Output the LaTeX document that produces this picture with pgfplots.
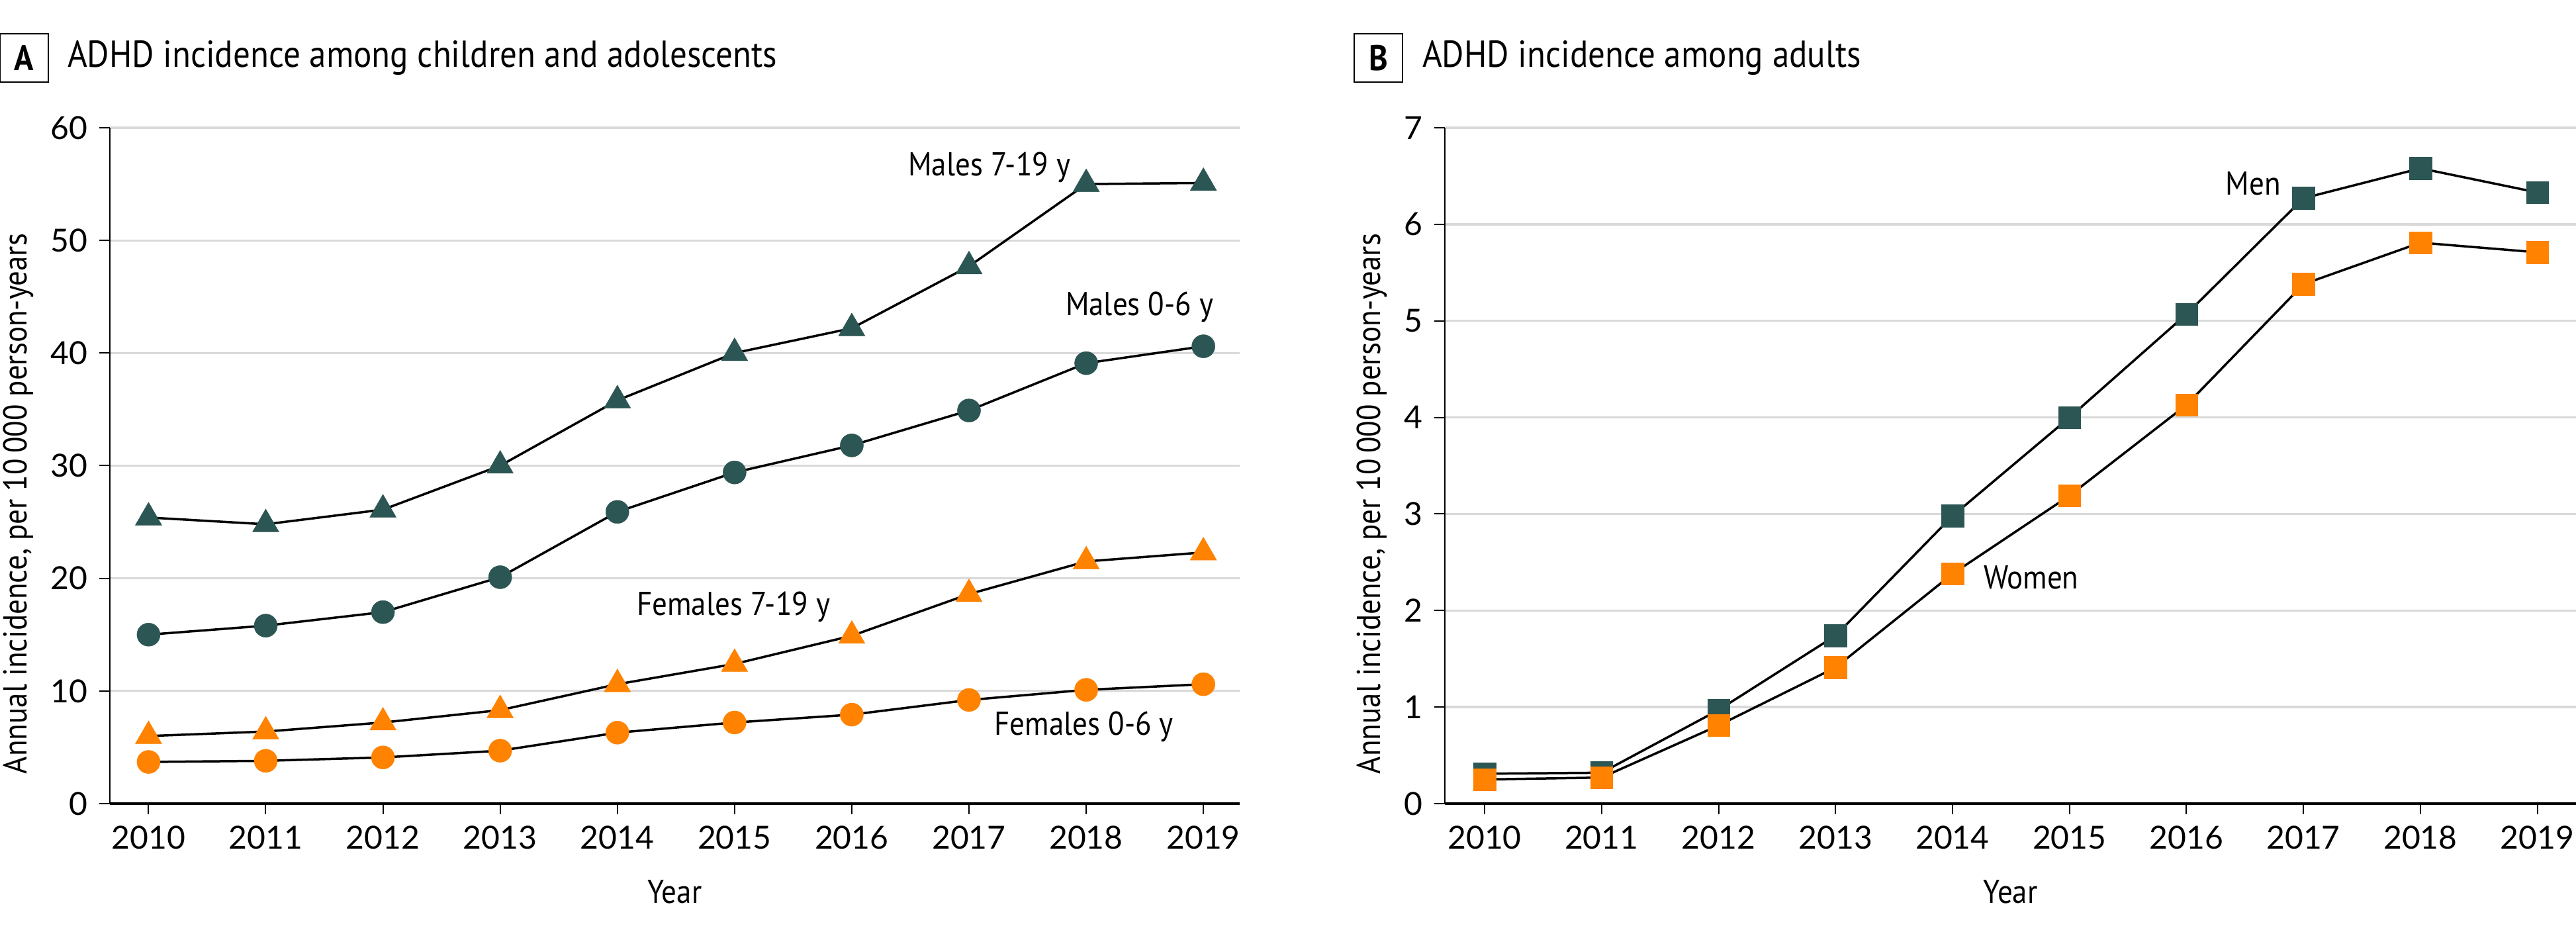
\documentclass[border=0pt]{standalone}
\usepackage{pgfplots}
\pgfplotsset{compat=1.18}
\usepackage{fontspec}
\setmainfont[FakeStretch=0.9]{PT Sans}
\newfontfamily\tickfont{Lato}
\definecolor{tealc}{RGB}{44,86,83}
\definecolor{orangec}{RGB}{255,130,0}
\definecolor{gridc}{RGB}{217,217,217}

\pgfplotstableread{
year m719 m06 f719 f06
2010 25.4 15.0 6.0 3.7
2011 24.8 15.8 6.4 3.8
2012 26.1 17.0 7.2 4.1
2013 30.0 20.1 8.3 4.7
2014 35.8 25.9 10.6 6.3
2015 40.0 29.4 12.4 7.2
2016 42.2 31.8 14.9 7.9
2017 47.7 34.9 18.6 9.2
2018 55.0 39.1 21.5 10.1
2019 55.1 40.6 22.3 10.6
}\childtab

\pgfplotstableread{
year men women
2010 0.31 0.25
2011 0.32 0.27
2012 0.97 0.81
2013 1.74 1.41
2014 2.98 2.38
2015 4.00 3.19
2016 5.07 4.13
2017 6.27 5.38
2018 6.58 5.81
2019 6.33 5.71
}\adulttab

\pgfplotsset{
  panel/.style={
    scale only axis,
    height=204.2pt,
    axis x line=bottom,
    axis y line=left,
    axis line style={-, black, line width=0.5pt},
    x axis line style={line width=0.7pt},
    tick align=outside,
    major tick length=3.3pt,
    tick style={black, line width=0.4pt},
    ymajorgrids,
    grid style={gridc, line width=0.66pt},
    xtick={2010,...,2019},
    /pgf/number format/1000 sep={},
    /pgf/number format/assume math mode=true,
    ticklabel style={font=\tickfont\fontsize{9.6}{11}\selectfont},
    label style={font=\fontsize{10}{12}\selectfont},
    xlabel={Year},
    ylabel={Annual incidence, per 10\,000 person-years},
    x label style={at={(axis description cs:0.5,-0.131)}, anchor=center},
    clip=false,
  },
  ln/.style={black, line width=0.7pt},
}

\begin{document}
\begin{tikzpicture}
\path[use as bounding box] (0,0) rectangle (778.4pt,283.4pt);

% Panel titles
\node[draw=black, line width=0.5pt, minimum width=14.6pt, minimum height=14.6pt, inner sep=0pt, font=\bfseries\fontsize{10.8}{12}\selectfont] at (7.3pt,265.9pt) {A};
\node[anchor=west, inner sep=0pt, font=\fontsize{11.35}{13}\selectfont] at (20.2pt,265.9pt) {ADHD incidence among children and adolescents};
\node[draw=black, line width=0.5pt, minimum width=14.6pt, minimum height=14.6pt, inner sep=0pt, font=\bfseries\fontsize{10.8}{12}\selectfont] at (416.5pt,265.9pt) {B};
\node[anchor=west, inner sep=0pt, font=\fontsize{11.35}{13}\selectfont] at (429.6pt,265.9pt) {ADHD incidence among adults};

% Panel A
\begin{axis}[panel,
  at={(33.2pt,40.6pt)}, anchor=south west,
  width=341.4pt,
  xmin=2009.67, xmax=2019.31,
  ymin=0, ymax=60,
  ytick={0,10,...,60},
  y label style={at={(axis description cs:-0.0808,0.4437)}, anchor=center},
]
\addplot[ln, mark=triangle*, mark size=4.6pt, mark options={fill=tealc, draw=tealc, line width=0.1pt}] table[x=year, y=m719] {\childtab};
\addplot[ln, mark=*, mark size=3.5pt, mark options={fill=tealc, draw=tealc, line width=0.1pt}] table[x=year, y=m06] {\childtab};
\addplot[ln, mark=triangle*, mark size=4.6pt, mark options={fill=orangec, draw=orangec, line width=0.1pt}] table[x=year, y=f719] {\childtab};
\addplot[ln, mark=*, mark size=3.5pt, mark options={fill=orangec, draw=orangec, line width=0.1pt}] table[x=year, y=f06] {\childtab};
\node[anchor=east, inner sep=0pt, font=\fontsize{10}{12}\selectfont] at (axis cs:2017.87,56.5) {Males 7-19 y};
\node[anchor=east, inner sep=0pt, font=\fontsize{10}{12}\selectfont] at (axis cs:2019.09,44.1) {Males 0-6 y};
\node[anchor=east, inner sep=0pt, font=\fontsize{10}{12}\selectfont] at (axis cs:2015.82,17.45) {Females 7-19 y};
\node[anchor=east, inner sep=0pt, font=\fontsize{10}{12}\selectfont] at (axis cs:2018.75,6.8) {Females 0-6 y};
\end{axis}

% Panel B
\begin{axis}[panel,
  at={(436.6pt,40.6pt)}, anchor=south west,
  width=341.8pt,
  xmin=2009.66, xmax=2019.33,
  ymin=0, ymax=7,
  ytick={0,1,...,7},
  y label style={at={(axis description cs:-0.0644,0.4437)}, anchor=center},
]
\addplot[ln, mark=square*, mark size=3.35pt, mark options={fill=tealc, draw=tealc, line width=0.1pt}] table[x=year, y=men] {\adulttab};
\addplot[ln, mark=square*, mark size=3.35pt, mark options={fill=orangec, draw=orangec, line width=0.1pt}] table[x=year, y=women] {\adulttab};
\node[anchor=east, inner sep=0pt, font=\fontsize{10}{12}\selectfont] at (axis cs:2016.81,6.42) {Men};
\node[anchor=west, inner sep=0pt, font=\fontsize{10}{12}\selectfont] at (axis cs:2014.26,2.34) {Women};
\end{axis}
\end{tikzpicture}
\end{document}
